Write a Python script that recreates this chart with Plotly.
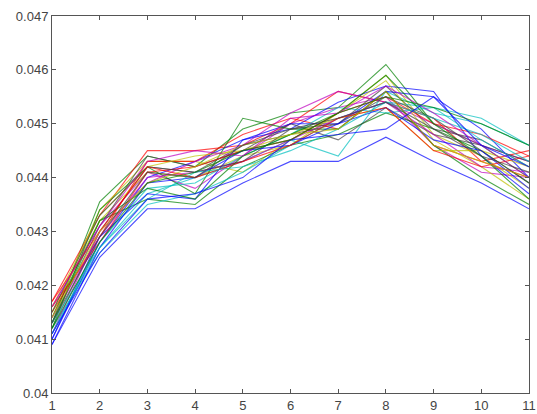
import plotly.graph_objects as go

x_vals = [1, 2, 3, 4, 5, 6, 7, 8, 9, 10, 11]

s01 = [0.04090, 0.04252, 0.04342, 0.04342, 0.04390, 0.04430, 0.04430, 0.04475, 0.04430, 0.04390, 0.04342]
s02 = [0.04130, 0.04355, 0.04440, 0.04420, 0.04490, 0.04520, 0.04530, 0.04610, 0.04500, 0.04460, 0.04400]
s03 = [0.04170, 0.04330, 0.04450, 0.04450, 0.04460, 0.04500, 0.04560, 0.04540, 0.04510, 0.04430, 0.04450]
s04 = [0.04110, 0.04270, 0.04370, 0.04400, 0.04430, 0.04470, 0.04440, 0.04560, 0.04520, 0.04500, 0.04460]
s05 = [0.04160, 0.04310, 0.04410, 0.04380, 0.04440, 0.04500, 0.04530, 0.04550, 0.04460, 0.04410, 0.04400]
s06 = [0.04140, 0.04340, 0.04430, 0.04430, 0.04410, 0.04470, 0.04520, 0.04590, 0.04480, 0.04440, 0.04380]
s07 = [0.04120, 0.04300, 0.04420, 0.04410, 0.04460, 0.04480, 0.04500, 0.04570, 0.04490, 0.04470, 0.04420]
s08 = [0.04100, 0.04280, 0.04400, 0.04430, 0.04470, 0.04490, 0.04540, 0.04570, 0.04560, 0.04440, 0.04370]
s09 = [0.04140, 0.04320, 0.04360, 0.04350, 0.04420, 0.04460, 0.04480, 0.04520, 0.04490, 0.04450, 0.04390]
s10 = [0.04150, 0.04290, 0.04430, 0.04430, 0.04480, 0.04510, 0.04490, 0.04560, 0.04460, 0.04430, 0.04400]
s11 = [0.04120, 0.04260, 0.04350, 0.04370, 0.04410, 0.04460, 0.04510, 0.04540, 0.04530, 0.04510, 0.04460]
s12 = [0.04110, 0.04300, 0.04390, 0.04430, 0.04460, 0.04520, 0.04560, 0.04540, 0.04500, 0.04460, 0.04430]
s13 = [0.04150, 0.04320, 0.04410, 0.04400, 0.04440, 0.04460, 0.04520, 0.04580, 0.04470, 0.04420, 0.04360]
s14 = [0.04130, 0.04310, 0.04440, 0.04420, 0.04450, 0.04500, 0.04470, 0.04530, 0.04480, 0.04460, 0.04430]
s15 = [0.04100, 0.04290, 0.04370, 0.04360, 0.04470, 0.04500, 0.04500, 0.04560, 0.04550, 0.04490, 0.04400]
s16 = [0.04120, 0.04340, 0.04420, 0.04370, 0.04510, 0.04490, 0.04490, 0.04560, 0.04460, 0.04400, 0.04350]
s17 = [0.04160, 0.04280, 0.04410, 0.04420, 0.04450, 0.04470, 0.04520, 0.04550, 0.04500, 0.04480, 0.04440]
s18 = [0.04110, 0.04280, 0.04380, 0.04390, 0.04440, 0.04480, 0.04530, 0.04520, 0.04530, 0.04470, 0.04420]
s19 = [0.04140, 0.04290, 0.04400, 0.04410, 0.04430, 0.04470, 0.04510, 0.04540, 0.04480, 0.04420, 0.04410]
s20 = [0.04160, 0.04330, 0.04420, 0.04440, 0.04450, 0.04480, 0.04510, 0.04530, 0.04450, 0.04450, 0.04420]
s21 = [0.04150, 0.04330, 0.04420, 0.04410, 0.04430, 0.04490, 0.04500, 0.04550, 0.04510, 0.04450, 0.04390]
s22 = [0.04090, 0.04270, 0.04390, 0.04400, 0.04450, 0.04460, 0.04500, 0.04530, 0.04470, 0.04450, 0.04380]
s23 = [0.04130, 0.04320, 0.04380, 0.04360, 0.04440, 0.04480, 0.04520, 0.04590, 0.04500, 0.04440, 0.04360]
s24 = [0.04170, 0.04300, 0.04420, 0.04400, 0.04430, 0.04460, 0.04510, 0.04530, 0.04450, 0.04420, 0.04440]
s25 = [0.04130, 0.04270, 0.04360, 0.04410, 0.04420, 0.04450, 0.04490, 0.04540, 0.04510, 0.04480, 0.04430]
s26 = [0.04160, 0.04310, 0.04430, 0.04450, 0.04440, 0.04510, 0.04520, 0.04570, 0.04520, 0.04460, 0.04400]
s27 = [0.04140, 0.04300, 0.04390, 0.04420, 0.04460, 0.04480, 0.04490, 0.04560, 0.04460, 0.04430, 0.04400]
s28 = [0.04130, 0.04290, 0.04410, 0.04400, 0.04460, 0.04490, 0.04510, 0.04540, 0.04490, 0.04440, 0.04410]
s29 = [0.04110, 0.04260, 0.04360, 0.04370, 0.04400, 0.04470, 0.04480, 0.04490, 0.04550, 0.04460, 0.04420]
s30 = [0.04120, 0.04280, 0.04390, 0.04410, 0.04450, 0.04470, 0.04520, 0.04550, 0.04530, 0.04500, 0.04460]

series = [s01, s02, s03, s04, s05, s06, s07, s08, s09, s10,
          s11, s12, s13, s14, s15, s16, s17, s18, s19, s20,
          s21, s22, s23, s24, s25, s26, s27, s28, s29, s30]

y_tick_vals = [0.04, 0.041, 0.042, 0.043, 0.044, 0.045, 0.046, 0.047]
y_tick_text = ["0.04", "0.041", "0.042", "0.043", "0.044", "0.045", "0.046", "0.047"]
x_tick_vals = [1, 2, 3, 4, 5, 6, 7, 8, 9, 10, 11]
x_tick_text = ["1", "2", "3", "4", "5", "6", "7", "8", "9", "10", "11"]

colors = ["rgb(0,0,255)", "rgb(0,128,0)", "rgb(255,0,0)", "rgb(0,191,191)",
          "rgb(191,0,191)", "rgb(191,191,0)", "rgb(64,64,64)"]

fig = go.Figure()
for i, s in enumerate(series):
    fig.add_trace(go.Scatter(
        x=x_vals, y=s, mode="lines",
        line=dict(color=colors[i % len(colors)], width=1.1),
        opacity=0.7, showlegend=False, hoverinfo="skip"))

axis_common = dict(
    showline=True, mirror="ticks", linecolor="#555555", linewidth=1,
    ticks="inside", ticklen=4, tickcolor="#555555",
    showgrid=False, zeroline=False, automargin=False,
    ticklabeloverflow="allow",
    tickfont=dict(family="Liberation Sans, Arial, sans-serif", size=13, color="#444444"),
)

fig.update_layout(
    template="none",
    width=537, height=414,
    margin=dict(l=52, r=8, t=16, b=21, pad=0),
    paper_bgcolor="white", plot_bgcolor="white",
    xaxis=dict(range=[1, 11], tickvals=x_tick_vals, ticktext=x_tick_text, **axis_common),
    yaxis=dict(range=[0.04, 0.047], tickvals=y_tick_vals, ticktext=y_tick_text, **axis_common),
)

fig.write_html(
    "out.html",
    config={"displayModeBar": False, "staticPlot": True},
    post_script="document.body.style.margin='0';document.body.style.overflow='hidden';",
)
